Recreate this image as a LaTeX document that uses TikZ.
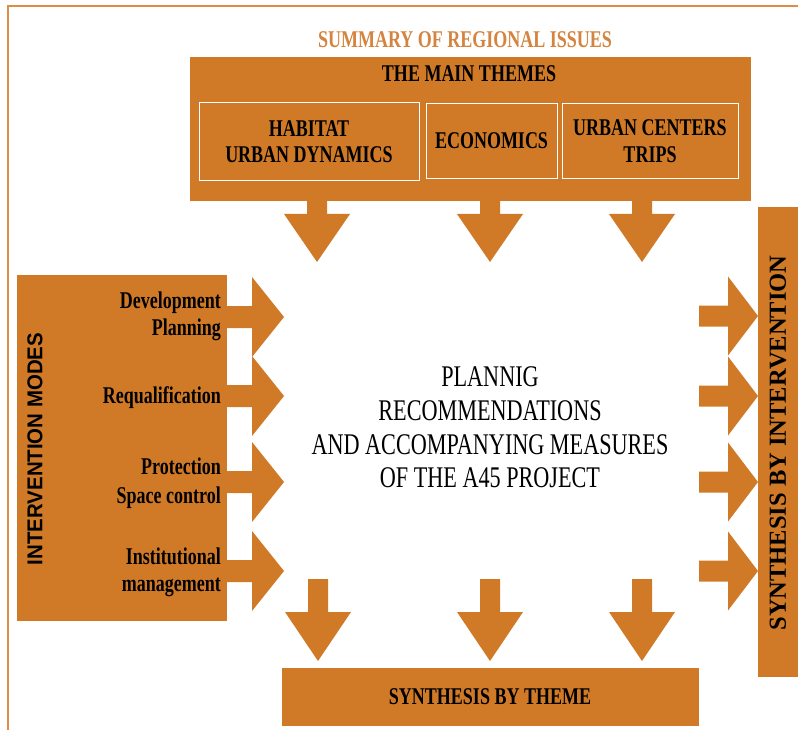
\documentclass[tikz,border=0pt]{standalone}
\usepackage{fontspec}
\setmainfont{Liberation Serif}
\newfontfamily\cserif{Liberation Serif}[FakeStretch=0.75]
\newfontfamily\cserifr{Liberation Serif}[FakeStretch=0.74]
\newfontfamily\sansbold{Liberation Sans}[FakeStretch=0.95]
\definecolor{myorange}{HTML}{D07A28}
\definecolor{titleorange}{HTML}{D4843E}
\definecolor{framecol}{HTML}{DD8E45}
\tikzset{
  panel/.style={fill=myorange, draw=none, inner sep=0pt, outer sep=0pt},
  themebox/.style={draw=white, line width=1pt, fill=myorange, inner sep=0pt},
  bl/.style={font=\cserif\bfseries\fontsize{24}{26}\selectfont, text=black, inner sep=0pt},
  ttl/.style={font=\cserif\bfseries\fontsize{24}{26}\selectfont, text=titleorange, inner sep=0pt},
  ctr/.style={font=\cserifr\fontsize{30}{34}\selectfont, text=black, inner sep=0pt, anchor=base},
  topdown/.pic={\fill[myorange] (-10,0) -- (10,0) -- (10,14) -- (33,14) -- (0,62) -- (-33,14) -- (-10,14) -- cycle;},
  botdown/.pic={\fill[myorange] (-10,0) -- (10,0) -- (10,33) -- (33,33) -- (0,82) -- (-33,33) -- (-10,33) -- cycle;},
  leftright/.pic={\fill[myorange] (0,-11) -- (26,-11) -- (26,-40) -- (58,0) -- (26,40) -- (26,11) -- (0,11) -- cycle;},
  rightright/.pic={\fill[myorange] (0,-10.5) -- (29,-10.5) -- (29,-39.5) -- (59,0) -- (29,39.5) -- (29,10.5) -- (0,10.5) -- cycle;}
}
\begin{document}
\begin{tikzpicture}[x=1pt,y=-1pt]
\useasboundingbox (0,0) rectangle (798,730);
\fill[white] (0,0) rectangle (798,730);
% frame
\draw[framecol, line width=1.6pt] (8,730) -- (8,6) -- (798,6);
% title
\node[ttl] (title) at (465,40) {SUMMARY OF REGIONAL ISSUES};
% main themes box
\node[panel, minimum width=561pt, minimum height=144pt] (themes) at (470.5,129) {};
\node[bl] (themeshdr) at (469,74) {THE MAIN THEMES};
\node[themebox, minimum width=220pt, minimum height=78pt] (habitat) at (309,142) {};
\node[bl] (hab1) at (309,129) {HABITAT};
\node[bl] (hab2) at (309,155) {URBAN DYNAMICS};
\node[themebox, minimum width=131pt, minimum height=75pt] (eco) at (491.5,141.5) {};
\node[bl] (eco1) at (491.5,141) {ECONOMICS};
\node[themebox, minimum width=176pt, minimum height=75pt] (urban) at (650,141.5) {};
\node[bl] (urb1) at (650,128) {URBAN CENTERS};
\node[bl] (urb2) at (650,155) {TRIPS};
% top arrows
\pic at (317,200) {topdown};
\pic at (490,200) {topdown};
\pic at (642,200) {topdown};
% left panel
\node[panel, minimum width=210pt, minimum height=346pt] (modes) at (122,448) {};
\node[font=\sansbold\bfseries\fontsize{21.5}{23}\selectfont, rotate=90, inner sep=0pt] (modeslbl) at (35,449) {INTERVENTION MODES};
\node[bl, anchor=base east] (m1a) at (221,308) {Development};
\node[bl, anchor=base east] (m1b) at (221,335) {Planning};
\node[bl, anchor=base east] (m2) at (221,403) {Requalification};
\node[bl, anchor=base east] (m3a) at (221,474) {Protection};
\node[bl, anchor=base east] (m3b) at (221,503) {Space control};
\node[bl, anchor=base east] (m4a) at (221,564) {Institutional};
\node[bl, anchor=base east] (m4b) at (221,591) {management};
\pic at (226,317) {leftright};
\pic at (226,396) {leftright};
\pic at (226,482) {leftright};
\pic at (226,571) {leftright};
% centre text
\node[ctr] (c1) at (490,386) {PLANNIG};
\node[ctr] (c2) at (490,420) {RECOMMENDATIONS};
\node[ctr] (c3) at (490,454) {AND ACCOMPANYING MEASURES};
\node[ctr] (c4) at (490,487) {OF THE A45 PROJECT};
% right panel
\node[panel, minimum width=41pt, minimum height=470pt] (inter) at (778.5,442) {};
\node[font=\bfseries\fontsize{24.5}{26}\selectfont, rotate=90, inner sep=0pt] (interlbl) at (778,443) {SYNTHESIS BY INTERVENTION};
\pic at (699,316) {rightright};
\pic at (699,396) {rightright};
\pic at (699,482) {rightright};
\pic at (699,571) {rightright};
% bottom arrows
\pic at (318,579) {botdown};
\pic at (490,579) {botdown};
\pic at (642,579) {botdown};
% bottom box
\node[panel, minimum width=417pt, minimum height=58pt] (theme) at (490.5,697) {};
\node[bl] (themelbl) at (490,697) {SYNTHESIS BY THEME};
\end{tikzpicture}
\end{document}
